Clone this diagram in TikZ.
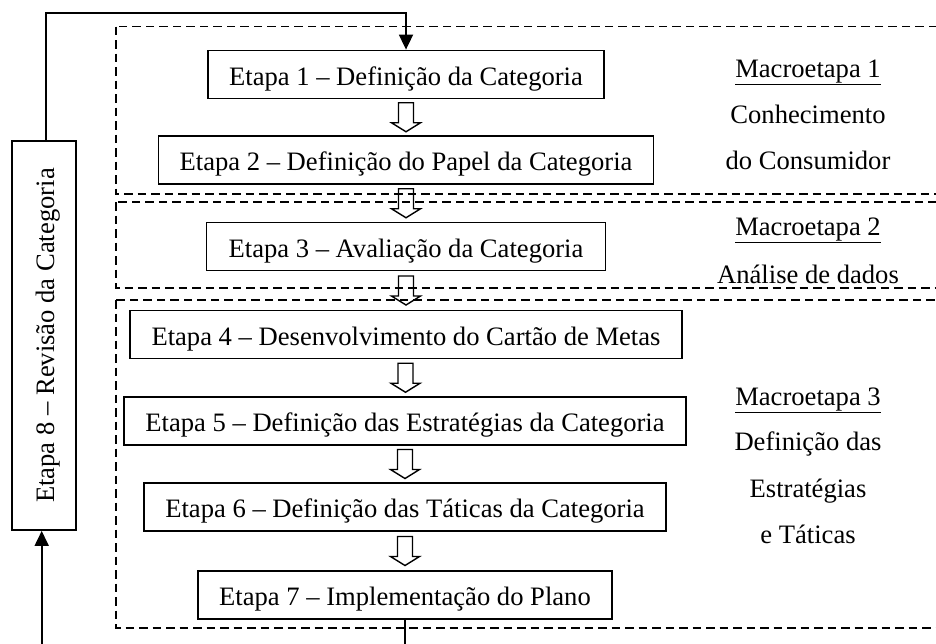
\documentclass[tikz,border=0pt]{standalone}
\usepackage{fontspec}
\setmainfont{Liberation Serif}
\usetikzlibrary{arrows.meta,calc}
\begin{document}
\begin{tikzpicture}[x=1pt,y=-1pt,
  etapa/.style={draw,line width=1.8pt,minimum height=48pt,inner sep=0pt,
    font=\fontsize{26.6}{30}\selectfont,text height=21pt,text depth=0pt},
  macro/.style={anchor=base,inner sep=0pt,font=\fontsize{26.6}{30}\selectfont},
  dashbox/.style={line width=1.4pt,dash pattern=on 8.5pt off 5pt},
  loopline/.style={line width=1.8pt,-{Triangle[length=15pt,width=14pt]}},
  harrow/.pic={\draw[line width=1.4pt] (-7.5,-14.5) -- (7.5,-14.5) -- (7.5,5.5) -- (14.5,5.5) -- (0,14.5) -- (-14.5,5.5) -- (-7.5,5.5) -- cycle;}
]
\useasboundingbox (0,0) rectangle (936,643);
\clip (0,0) rectangle (936,643);
% macro-stage frames
\draw[dashbox] (116,26.7) rectangle (960,194);
\draw[dashbox] (116,202) rectangle (960,288);
\draw[dashbox] (116,300) rectangle (960,628);
% stages
\node[etapa,minimum width=396pt] (e1) at (406,74.5) {Etapa 1 -- Definição da Categoria};
\node[etapa,minimum width=495pt] (e2) at (406,160) {Etapa 2 -- Definição do Papel da Categoria};
\node[etapa,minimum width=399pt] (e3) at (406,246.5) {Etapa 3 -- Avaliação da Categoria};
\node[etapa,minimum width=552pt] (e4) at (406,334.5) {Etapa 4 -- Desenvolvimento do Cartão de Metas};
\node[etapa,minimum width=562pt] (e5) at (405,421) {Etapa 5 -- Definição das Estratégias da Categoria};
\node[etapa,minimum width=522pt] (e6) at (405,507) {Etapa 6 -- Definição das Táticas da Categoria};
\node[etapa,minimum width=414pt] (e7) at (405,595) {Etapa 7 -- Implementação do Plano};
\node[etapa,minimum width=389pt,minimum height=63.5pt,rotate=90] (e8) at (44,335.5) {Etapa 8 -- Revisão da Categoria};
% hollow arrows
\pic at ($(e1.south)!0.5!(e2.north)$) {harrow};
\pic at ($(e2.south)!0.5!(e3.north)$) {harrow};
\pic at ($(e3.south)!0.5!(e4.north)$) {harrow};
\pic at ($(e4.south)!0.5!(e5.north)$) {harrow};
\pic at ($(e5.south)!0.5!(e6.north)$) {harrow};
\pic at ($(e6.south)!0.5!(e7.north)$) {harrow};
% feedback loop
\coordinate (top) at (406,13);
\coordinate (bot) at (405,680);
\draw[loopline] ([xshift=1.7pt]e8.east) |- (top) -- (e1.north);
\draw[loopline] (e7.south) -- (bot) -| ([xshift=-2.3pt]e8.west);
% macro-stage labels
\node[macro] (m1) at (808,77) {\underline{Macroetapa 1}};
\node[macro] (m1a) at (808,123) {Conhecimento};
\node[macro] (m1b) at (808,169) {do Consumidor};
\node[macro] (m2) at (808,235) {\underline{Macroetapa 2}};
\node[macro] (m2a) at (808,283) {Análise de dados};
\node[macro] (m3) at (808,405) {\underline{Macroetapa 3}};
\node[macro] (m3a) at (808,450) {Definição das};
\node[macro] (m3b) at (808,497) {Estratégias};
\node[macro] (m3c) at (808,543) {e Táticas};
\end{tikzpicture}
\end{document}
